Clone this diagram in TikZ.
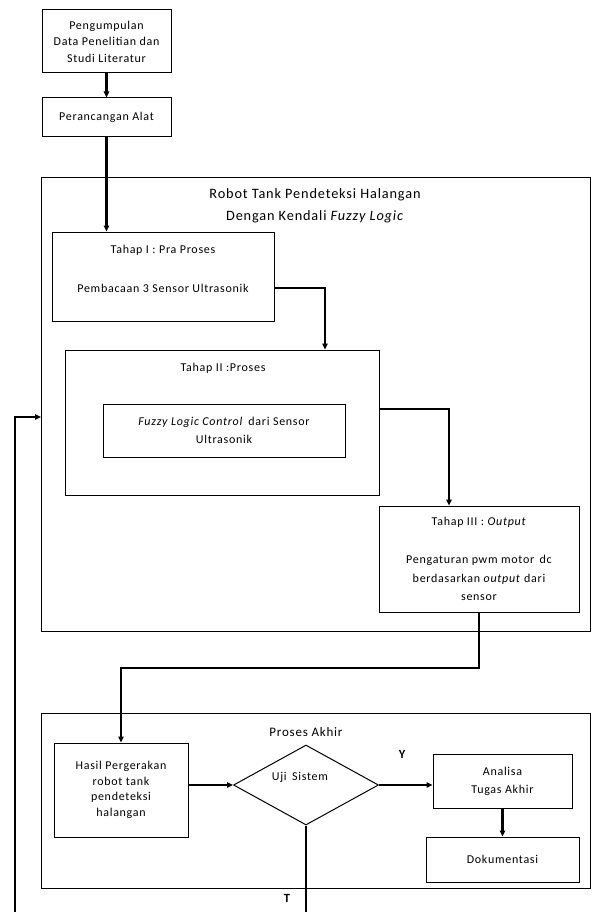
\documentclass[tikz,border=0pt]{standalone}
\usepackage{fontspec}
\setmainfont{Carlito}[LetterSpace=6]
\usetikzlibrary{arrows.meta,shapes.geometric}

\begin{document}
\begin{tikzpicture}[x=1pt, y=-1pt, font=\fontsize{12}{16.5}\selectfont,
    kotak/.style={draw, line width=1pt, align=center, inner sep=0pt, anchor=center},
    panah/.style={-{Triangle[length=6pt,width=5.5pt]}, line width=2.4pt},
    balik/.style={-{Triangle[length=6pt,width=5.5pt]}, line width=1.3pt}]
    \useasboundingbox (0,0) rectangle (592,912);
    \clip (0,0) rectangle (592,912);

    % tahap awal
    \node[kotak, minimum width=129, minimum height=63] (kumpul) at (106.5,41.5) {Pengumpulan\\Data Penelitian dan\\Studi Literatur};
    \node[kotak, minimum width=129, minimum height=39] (rancang) at (106.5,117.5) {Perancangan Alat};

    % robot
    \node[kotak, minimum width=548.5, minimum height=453] (robot) at (315.75,404.5) {};
    \node[font=\fontsize{14.3}{22}\selectfont, align=center] (judul) at (315,206) {Robot Tank Pendeteksi Halangan\\Dengan Kendali \textit{Fuzzy Logic}};
    \node[kotak, minimum width=222, minimum height=89] (tahap1) at (163,276.5) {};
    \node (t1a) at (163,250) {Tahap I : Pra Proses};
    \node (t1b) at (163,288) {Pembacaan 3 Sensor Ultrasonik};
    \node[kotak, minimum width=314, minimum height=145] (tahap2) at (222,422.5) {};
    \node (t2a) at (223,368) {Tahap II :Proses};
    \node[kotak, minimum width=242, minimum height=53, font=\fontsize{12}{18}\selectfont] (fuzzy) at (224,430.5) {\textit{Fuzzy Logic Control}\, dari Sensor\\Ultrasonik};
    \node[kotak, minimum width=200, minimum height=106] (tahap3) at (479,559) {};
    \node (t3a) at (479,522) {Tahap III : \textit{Output}};
    \node[align=center, font=\fontsize{12}{18.5}\selectfont] (t3b) at (479,578) {Pengaturan pwm motor\, dc\\berdasarkan \textit{output} dari\\sensor};

    % proses akhir
    \node[kotak, minimum width=548.5, minimum height=175] (akhir) at (315.75,800.5) {};
    \node[font=\fontsize{13}{14}\selectfont] (judul2) at (306,732) {Proses Akhir};
    \node[kotak, minimum width=134, minimum height=94, font=\fontsize{12}{15.5}\selectfont] (hasil) at (121,790) {Hasil Pergerakan\\robot tank\\pendeteksi\\halangan};
    \node[kotak, diamond, minimum width=145, minimum height=80, aspect=1.8] (uji) at (306,785) {};
    \node (ujit) at (300,777) {Uji\, Sistem};
    \node[kotak, minimum width=139, minimum height=54, font=\fontsize{12}{18}\selectfont] (analisa) at (502.5,781) {Analisa\\Tugas Akhir};
    \node[kotak, minimum width=153, minimum height=45] (dokumen) at (502.5,859.5) {Dokumentasi};
    \node[font=\fontsize{12.5}{14}\bfseries] (ya) at (402,754) {Y};
    \node[font=\fontsize{12.5}{14}\bfseries] (tidak) at (287,898) {T};

    \coordinate (belok) at (0,668);
    \coordinate (bawah) at (15,930);

    % panah
    \draw[panah] (kumpul) -- (rancang);
    \draw[panah] (rancang) -- (rancang |- tahap1.north);
    \draw[panah] ([yshift=-11.5pt]tahap1.east) -| ([xshift=103pt]tahap2.north);
    \draw[panah] ([yshift=13.5pt]tahap2.east) -| ([xshift=-30pt]tahap3.north);
    \draw[panah] (tahap3.south) -- (tahap3.south |- belok) -| (hasil.north);
    \draw[panah] (hasil.east |- uji) -- (uji.west);
    \draw[panah] (uji.east) -- (uji.east -| analisa.west);
    \draw[panah] (analisa) -- (dokumen);
    \draw[line width=2.4pt] (uji.south) -- (uji.south |- bawah) -- (bawah);
    \draw[balik] (bawah) -- (bawah |- 0,417) -- (robot.west |- 0,417);
\end{tikzpicture}
\end{document}
